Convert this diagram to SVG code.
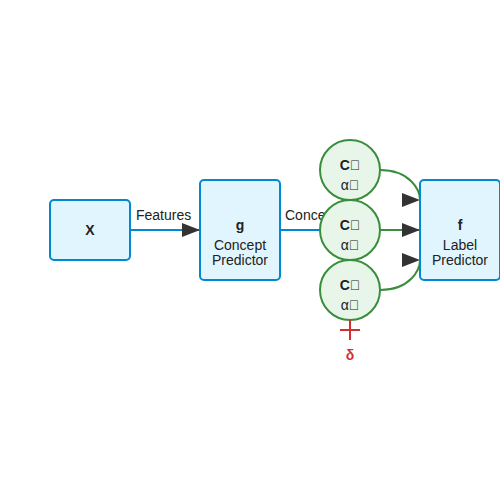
<svg xmlns="http://www.w3.org/2000/svg" width="500" height="500" viewBox="0 0 500 500">
<defs>
<style>
text{font-family:"Liberation Sans",Arial,sans-serif;font-size:14px;fill:#222}
.box{fill:#e1f5fe;stroke:#0288d1;stroke-width:2}
.circ{fill:#e8f5e9;stroke:#388e3c;stroke-width:2}
.b{font-weight:bold}
.c{text-anchor:middle}
.blue{stroke:#0288d1;stroke-width:2;fill:none}
.green{stroke:#388e3c;stroke-width:2;fill:none}
.red{stroke:#d32f2f;stroke-width:2}
</style>
<marker id="arr" viewBox="0 0 18 14" refX="18" refY="7" markerWidth="18" markerHeight="14" markerUnits="userSpaceOnUse" orient="0">
<path d="M0,0 L18,7 L0,14 Z" fill="#333"/>
</marker>
</defs>
<rect width="500" height="500" fill="#fff"/>
<g id="connectors">
<line class="blue" x1="130" y1="230" x2="200" y2="230" marker-end="url(#arr)"/>
<text x="136" y="220">Features</text>
<line class="blue" x1="280" y1="230" x2="320" y2="230"/>
<text x="285" y="220">Concepts</text>
<path class="green" d="M380,170 C410,170 420,190 420,200" marker-end="url(#arr)"/>
<line class="green" x1="380" y1="230" x2="420" y2="230" marker-end="url(#arr)"/>
<path class="green" d="M380,290 C410,290 420,270 420,260" marker-end="url(#arr)"/>
<text x="494" y="220">Prediction</text>
</g>
<g id="node-x">
<rect class="box" x="50" y="200" width="80" height="60" rx="4"/>
<text class="b c" x="90" y="235">X</text>
</g>
<g id="node-g">
<rect class="box" x="200" y="180" width="80" height="100" rx="4"/>
<text class="b c" x="240" y="230">g</text>
<text class="c" x="240" y="250">Concept</text>
<text class="c" x="240" y="265">Predictor</text>
</g>
<g id="node-f">
<rect class="box" x="420" y="180" width="80" height="100" rx="4"/>
<text class="b c" x="460" y="230">f</text>
<text class="c" x="460" y="250">Label</text>
<text class="c" x="460" y="265">Predictor</text>
</g>
<g id="concept-1">
<circle class="circ" cx="350" cy="170" r="30"/>
<text class="b c" x="350" y="170">C&#xE000;</text>
<text class="c" x="350" y="190">α&#xE000;</text>
</g>
<g id="concept-2">
<circle class="circ" cx="350" cy="230" r="30"/>
<text class="b c" x="350" y="230">C&#xE001;</text>
<text class="c" x="350" y="250">α&#xE001;</text>
</g>
<g id="concept-3">
<circle class="circ" cx="350" cy="290" r="30"/>
<text class="b c" x="350" y="290">C&#xE002;</text>
<text class="c" x="350" y="310">α&#xE002;</text>
</g>
<g id="delta">
<line class="red" x1="350" y1="320" x2="350" y2="340"/>
<line class="red" x1="340" y1="330" x2="360" y2="330"/>
<text class="b c" x="350" y="360" style="fill:#d32f2f">δ</text>
</g>
</svg>
